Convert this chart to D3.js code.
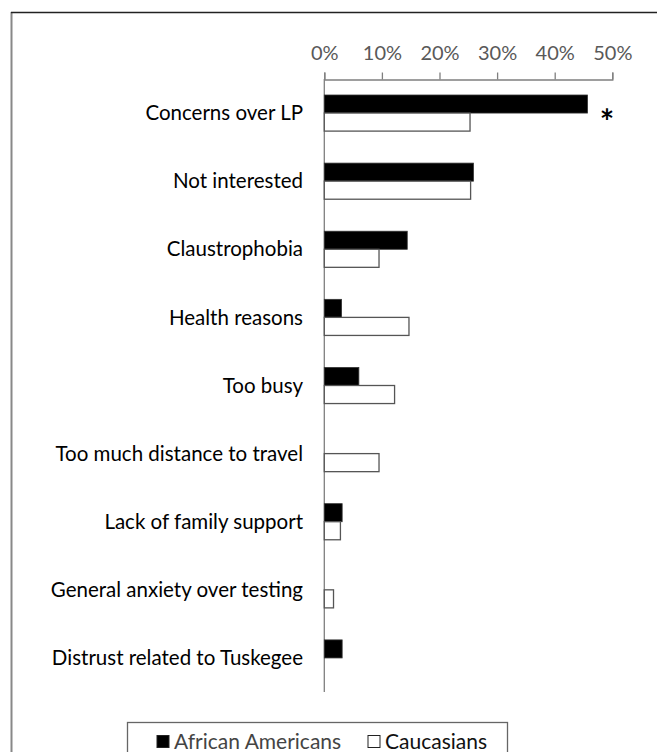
<!DOCTYPE html>
<html>
<head>
<meta charset="utf-8">
<script src="https://cdn.jsdelivr.net/npm/d3@7"></script>
<style>
  html, body { margin: 0; padding: 0; background: #fff; }
  svg { display: block; }
  text { font-family: Lato, "Open Sans", sans-serif; }
</style>
</head>
<body>
<svg id="chart" width="657" height="752"></svg>
<script>
const categories = [
  "Concerns over LP",
  "Not interested",
  "Claustrophobia",
  "Health reasons",
  "Too busy",
  "Too much distance to travel",
  "Lack of family support",
  "General anxiety over testing",
  "Distrust related to Tuskegee"
];
const africanAmericans = [0.457, 0.259, 0.144, 0.030, 0.060, 0.0, 0.031, 0.0, 0.031];
const caucasians       = [0.253, 0.254, 0.095, 0.147, 0.122, 0.095, 0.028, 0.016, 0.0];
const tickValues = [0, 0.1, 0.2, 0.3, 0.4, 0.5];
const seriesNames = ["African Americans", "Caucasians"];
const significant = ["Concerns over LP"];

const svg = d3.select("#chart");

// outer frame (top + left edges visible)
svg.append("line").attr("x1", 11.5).attr("x2", 11.5).attr("y1", 12).attr("y2", 752)
  .attr("stroke", "#888").attr("stroke-width", 2);
svg.append("line").attr("x1", 11).attr("x2", 657).attr("y1", 12.5).attr("y2", 12.5)
  .attr("stroke", "#222").attr("stroke-width", 1.5);

const x = d3.scaleLinear().domain([0, 0.5]).range([324.3, 612.3]);
const y = d3.scaleBand().domain(categories).range([79, 692]).paddingInner(0.47).paddingOuter(0.235);

// top axis
const axis = d3.axisTop(x).tickValues(tickValues).tickFormat(d3.format(".0%")).tickSize(7).tickSizeOuter(7);
const gx = svg.append("g").attr("transform", "translate(0,79.5)").call(axis);
gx.select(".domain").attr("stroke", "#7f7f7f").attr("stroke-width", 1.3);
gx.selectAll(".tick line").attr("stroke", "#7f7f7f").attr("stroke-width", 1.3);
gx.selectAll(".tick text")
  .attr("font-size", 20)
  .attr("fill", "#595959")
  .attr("font-family", "Lato, sans-serif")
  .attr("y", -27)
  .attr("dy", "0.35em");

// vertical axis line
svg.append("line")
  .attr("x1", x(0)).attr("x2", x(0))
  .attr("y1", 79).attr("y2", 692)
  .attr("stroke", "#7f7f7f").attr("stroke-width", 1.3);

const bh = y.bandwidth() / 2;

// African Americans (black)
svg.append("g").selectAll("rect")
  .data(categories.map((c, i) => ({c, v: africanAmericans[i]})).filter(d => d.v > 0))
  .join("rect")
  .attr("x", x(0))
  .attr("y", d => y(d.c))
  .attr("width", d => x(d.v) - x(0))
  .attr("height", bh)
  .attr("fill", "#000")
  .attr("stroke", "#333")
  .attr("stroke-width", 0.8);

// Caucasians (white)
svg.append("g").selectAll("rect")
  .data(categories.map((c, i) => ({c, v: caucasians[i]})).filter(d => d.v > 0))
  .join("rect")
  .attr("x", x(0))
  .attr("y", d => y(d.c) + bh)
  .attr("width", d => x(d.v) - x(0))
  .attr("height", bh)
  .attr("fill", "#fff")
  .attr("stroke", "#555")
  .attr("stroke-width", 1.3);

// category labels
svg.append("g").selectAll("text")
  .data(categories)
  .join("text")
  .attr("x", 303)
  .attr("y", d => y(d) + y.bandwidth() / 2)
  .attr("dy", "0.35em")
  .attr("text-anchor", "end")
  .attr("font-size", 20.5)
  .attr("fill", "#000")
  .text(d => d);

// significance asterisk
svg.append("g").selectAll("text")
  .data(significant)
  .join("text")
  .attr("x", 607)
  .attr("y", d => y(d) + y.bandwidth() / 2 + 21)
  .attr("text-anchor", "middle")
  .attr("font-size", 34)
  .attr("font-weight", "bold")
  .attr("fill", "#000")
  .text("*");

// legend
const lg = svg.append("g");
lg.append("rect")
  .attr("x", 127.5).attr("y", 722.5)
  .attr("width", 380).attr("height", 40)
  .attr("fill", "#fff").attr("stroke", "#666").attr("stroke-width", 1.3);
const legendItems = [
  {name: seriesNames[0], sx: 157, fill: "#000"},
  {name: seriesNames[1], sx: 368, fill: "#fff"}
];
legendItems.forEach(it => {
  lg.append("rect")
    .attr("x", it.sx).attr("y", 735.5)
    .attr("width", 12).attr("height", 12)
    .attr("fill", it.fill).attr("stroke", "#222").attr("stroke-width", 1);
  lg.append("text")
    .attr("x", it.sx + 17).attr("y", 742)
    .attr("dy", "0.35em")
    .attr("font-size", 21)
    .attr("fill", it.fill === "#000" ? "#444" : "#111")
    .text(it.name);
});
</script>
</body>
</html>
